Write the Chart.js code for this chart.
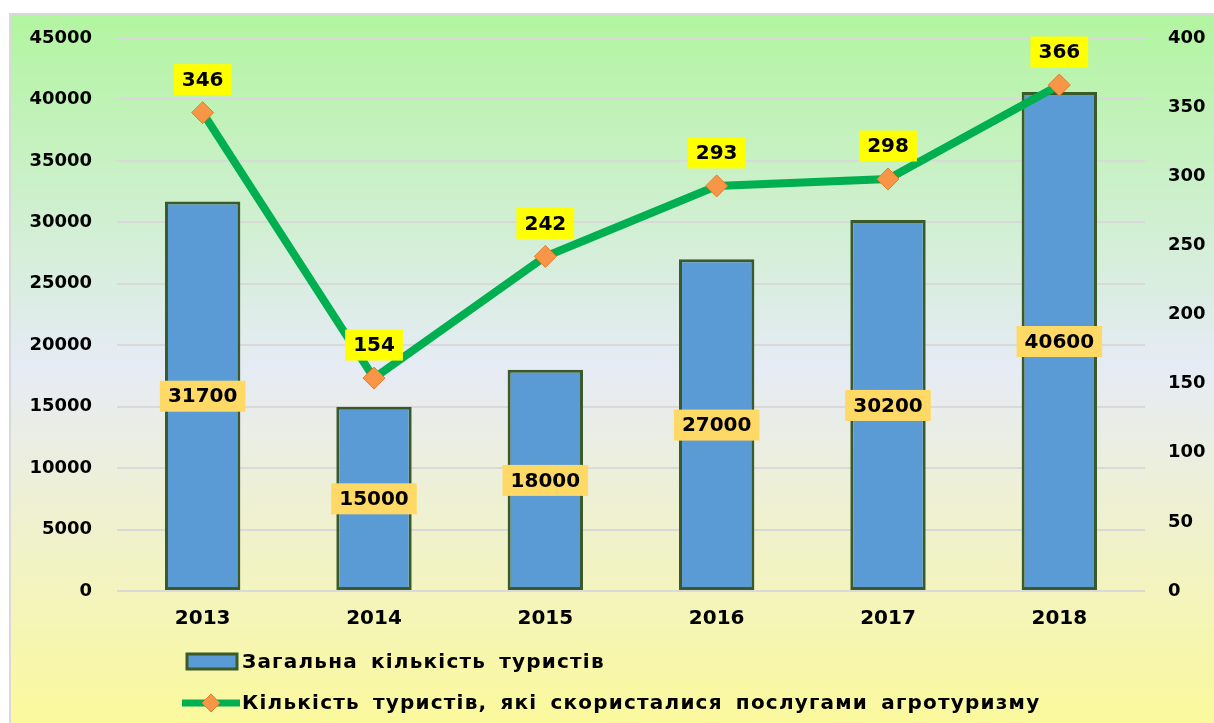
<!DOCTYPE html>
<html>
<head>
<meta charset="utf-8">
<script src="https://cdn.jsdelivr.net/npm/chart.js@4"></script>
<style>
html,body{margin:0;padding:0;background:#fff;overflow:hidden;}
#wrap{width:1214px;height:723px;position:relative;}
</style>
</head>
<body>
<div id="wrap"><canvas id="c" width="1214" height="723"></canvas></div>
<script>
const years = ['2013','2014','2015','2016','2017','2018'];
const totalTourists = [31700, 15000, 18000, 27000, 30200, 40600];
const agroTourists = [346, 154, 242, 293, 298, 366];
const leftTicks = [0, 5000, 10000, 15000, 20000, 25000, 30000, 35000, 40000, 45000];
const rightTicks = [0, 50, 100, 150, 200, 250, 300, 350, 400];
const seriesNames = ['Загальна кількість туристів', 'Кількість туристів, які скористалися послугами агротуризму'];

const FONT = '"DejaVu Sans", Verdana, sans-serif';

const bgPlugin = {
  id: 'bg',
  beforeDraw(chart) {
    const ctx = chart.ctx;
    ctx.save();
    ctx.fillStyle = '#ffffff';
    ctx.fillRect(0, 0, chart.width, chart.height);
    const g = ctx.createLinearGradient(0, 15, 0, chart.height);
    g.addColorStop(0, '#b2f5a0');
    g.addColorStop(0.5, '#e6ebf5');
    g.addColorStop(1, '#fbf99c');
    ctx.fillStyle = g;
    ctx.fillRect(11, 15, chart.width - 11, chart.height - 15);
    ctx.strokeStyle = '#d9d9d9';
    ctx.lineWidth = 2;
    ctx.beginPath();
    ctx.moveTo(10, chart.height);
    ctx.lineTo(10, 14);
    ctx.lineTo(chart.width, 14);
    ctx.stroke();
    ctx.restore();
  }
};

function drawLabel(ctx, text, cx, cy, bg) {
  ctx.font = 'bold 20px ' + FONT;
  const w = ctx.measureText(text).width + 16;
  const h = 31;
  ctx.fillStyle = bg;
  ctx.fillRect(cx - w / 2, cy - h / 2, w, h);
  ctx.fillStyle = '#000';
  ctx.textAlign = 'center';
  ctx.textBaseline = 'middle';
  ctx.fillText(text, cx, cy + 1);
}

const labelPlugin = {
  id: 'vlabels',
  afterDatasetsDraw(chart) {
    const ctx = chart.ctx;
    ctx.save();
    const barMeta = chart.getDatasetMeta(0);
    const yL = chart.scales.y;
    barMeta.data.forEach((el, i) => {
      const v = totalTourists[i];
      const cy = (yL.getPixelForValue(v) + yL.getPixelForValue(0)) / 2;
      drawLabel(ctx, String(v), el.x, cy, '#ffd966');
    });
    const lineMeta = chart.getDatasetMeta(1);
    lineMeta.data.forEach((el, i) => {
      drawLabel(ctx, String(agroTourists[i]), el.x, el.y - 33, '#ffff00');
    });
    ctx.restore();
  }
};

const legendPlugin = {
  id: 'customLegend',
  afterDraw(chart) {
    const ctx = chart.ctx;
    ctx.save();
    ctx.fillStyle = '#5b9bd5';
    ctx.fillRect(187, 654, 50, 15);
    ctx.strokeStyle = '#3b5a2a';
    ctx.lineWidth = 3;
    ctx.strokeRect(187, 654, 50, 15);
    ctx.strokeStyle = '#00b050';
    ctx.lineWidth = 7;
    ctx.beginPath();
    ctx.moveTo(182, 703);
    ctx.lineTo(240, 703);
    ctx.stroke();
    ctx.fillStyle = '#f79646';
    ctx.strokeStyle = '#e57c2c';
    ctx.lineWidth = 1;
    ctx.beginPath();
    ctx.moveTo(211, 694);
    ctx.lineTo(220, 703);
    ctx.lineTo(211, 712);
    ctx.lineTo(202, 703);
    ctx.closePath();
    ctx.fill();
    ctx.stroke();
    ctx.fillStyle = '#000';
    ctx.font = 'bold 20px ' + FONT;
    ctx.textAlign = 'left';
    ctx.textBaseline = 'middle';
    try { ctx.letterSpacing = '1.2px'; ctx.wordSpacing = '5px'; } catch (e) {}
    ctx.fillText(seriesNames[0], 242, 663);
    ctx.fillText(seriesNames[1], 242, 704);
    ctx.restore();
  }
};

const plain = v => String(v);

new Chart(document.getElementById('c'), {
  data: {
    labels: years,
    datasets: [
      {
        type: 'bar',
        label: seriesNames[0],
        data: totalTourists,
        yAxisID: 'y',
        backgroundColor: '#5b9bd5',
        borderColor: '#3b5a2a',
        borderWidth: 3,
        borderSkipped: false,
        categoryPercentage: 1,
        barPercentage: 0.44,
        order: 2
      },
      {
        type: 'line',
        label: seriesNames[1],
        data: agroTourists,
        yAxisID: 'y1',
        borderColor: '#00b050',
        borderWidth: 8,
        pointStyle: 'rectRot',
        pointRadius: 11,
        pointHoverRadius: 11,
        pointBackgroundColor: '#f79646',
        pointBorderColor: '#e57c2c',
        pointBorderWidth: 1,
        tension: 0,
        order: 1
      }
    ]
  },
  options: {
    responsive: false,
    animation: false,
    events: [],
    layout: { padding: { top: 38, left: 0, right: 0, bottom: 0 } },
    plugins: {
      legend: { display: false },
      tooltip: { enabled: false }
    },
    scales: {
      x: {
        grid: { display: false, drawTicks: false },
        border: { display: false },
        ticks: { color: '#000', font: { family: FONT, size: 20, weight: 'bold' }, padding: 16 },
        afterFit(s) { s.height = 132; }
      },
      y: {
        position: 'left',
        min: 0, max: 45000,
        afterBuildTicks(s) { s.ticks = leftTicks.map(v => ({ value: v })); },
        grid: { color: '#d9d9d9', lineWidth: 2, drawTicks: false },
        border: { display: false },
        ticks: { color: '#000', font: { family: FONT, size: 18, weight: 'bold' }, padding: 25, callback: plain },
        afterFit(s) { s.width = 117; }
      },
      y1: {
        position: 'right',
        min: 0, max: 400,
        afterBuildTicks(s) { s.ticks = rightTicks.map(v => ({ value: v })); },
        grid: { display: false, drawTicks: false },
        border: { display: false },
        ticks: { color: '#000', font: { family: FONT, size: 18, weight: 'bold' }, padding: 23, callback: plain },
        afterFit(s) { s.width = 69; }
      }
    }
  },
  plugins: [bgPlugin, labelPlugin, legendPlugin]
});
</script>
</body>
</html>
